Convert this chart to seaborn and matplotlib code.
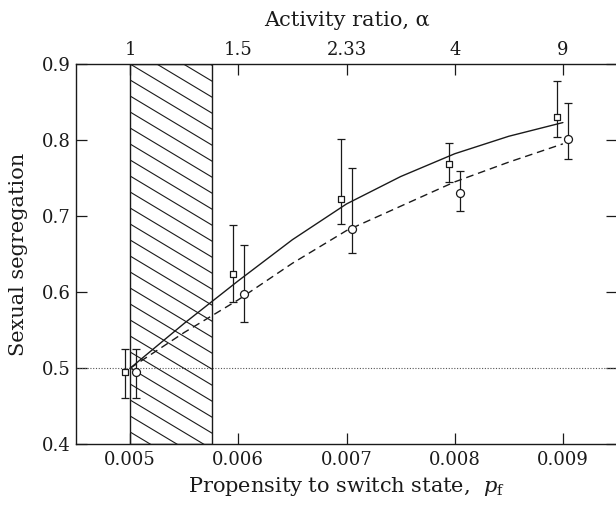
import numpy as np
import pandas as pd
import matplotlib
matplotlib.use("Agg")
import matplotlib.pyplot as plt
from matplotlib.patches import Rectangle
import seaborn as sns

# Valores
p_ticks = [0.005, 0.006, 0.007, 0.008, 0.009]
alpha_labels = ["1", "1.5", "2.33", "4", "9"]
y_ticks = [0.4, 0.5, 0.6, 0.7, 0.8, 0.9]

# quadrados (linha cheia)
sq_mean = [0.495, 0.624, 0.7225, 0.7685, 0.830]
sq_low = [0.4605, 0.5875, 0.690, 0.7445, 0.8036]
sq_high = [0.525, 0.688, 0.801, 0.7966, 0.877]

# círculos (linha tracejada)
ci_mean = [0.495, 0.597, 0.683, 0.731, 0.801]
ci_low = [0.4605, 0.5604, 0.651, 0.7067, 0.7755]
ci_high = [0.5257, 0.662, 0.763, 0.7593, 0.8483]

# curvas ajustadas
curve_x = [0.005, 0.0055, 0.006, 0.0065, 0.007, 0.0075, 0.008, 0.0085, 0.009]
solid_y = [0.500, 0.559, 0.615, 0.669, 0.716, 0.752, 0.782, 0.805, 0.823]
dashed_y = [0.500, 0.547, 0.590, 0.638, 0.681, 0.713, 0.745, 0.771, 0.795]

shade_x = [0.005, 0.00576]
baseline = 0.5
offset = 0.00005
xlim = (0.0045, 0.0095)
ylim = (0.4, 0.9)

# Estilo
sns.set_theme(style="ticks")
plt.rcParams['font.family'] = ['DejaVu Serif']
plt.rcParams['mathtext.fontset'] = 'dejavuserif'
ink = '#1a1a1a'

W, H = 616, 511
fig = plt.figure(figsize=(W / 100, H / 100), dpi=100)
ax_box = [76 / W, (H - 444.3) / H, (617 - 76) / W, 380.3 / H]
ax = fig.add_axes(ax_box)
ax.set_xlim(*xlim)
ax.set_ylim(*ylim)

# Faixa hachurada (linhas inclinadas, recortadas pelo retângulo)
rect = Rectangle((shade_x[0], ylim[0]), shade_x[1] - shade_x[0], ylim[1] - ylim[0],
                 facecolor='none', edgecolor=ink, linewidth=1.0, zorder=3)
ax.add_patch(rect)
px_x = ax_box[2] * W / (xlim[1] - xlim[0])   # pixels por unidade de x
px_y = ax_box[3] * H / (ylim[1] - ylim[0])   # pixels por unidade de y
slope = 0.6 * px_x / px_y
gap = 16 / px_y
for k in range(-10, 40):
    y0 = ylim[1] - k * gap
    xs = np.array(shade_x)
    ys = y0 - slope * (xs - shade_x[0])
    ln, = ax.plot(xs, ys, color=ink, lw=0.8, zorder=2)
    ln.set_clip_path(rect)

# Linha pontilhada em 0.5
ax.axhline(baseline, color='#555555', lw=0.8, ls=(0, (1, 1.5)), zorder=1)

# Curvas
curves = pd.concat([
    pd.DataFrame({'p': curve_x, 'seg': solid_y, 'modelo': 'cheia'}),
    pd.DataFrame({'p': curve_x, 'seg': dashed_y, 'modelo': 'tracejada'}),
])
sns.lineplot(data=curves, x='p', y='seg', style='modelo',
             dashes={'cheia': '', 'tracejada': (5.5, 3.5)},
             color=ink, lw=1.0, legend=False, ax=ax, zorder=4)

# Pontos com barras de erro
px = np.array(p_ticks)
pts = pd.concat([
    pd.DataFrame({'p': px - offset, 'seg': sq_mean, 'lo': sq_low, 'hi': sq_high, 'tipo': 's'}),
    pd.DataFrame({'p': px + offset, 'seg': ci_mean, 'lo': ci_low, 'hi': ci_high, 'tipo': 'o'}),
])
for tipo, size in [('s', 22), ('o', 33)]:
    d = pts[pts['tipo'] == tipo]
    ax.errorbar(d['p'], d['seg'], yerr=[d['seg'] - d['lo'], d['hi'] - d['seg']],
                fmt='none', ecolor=ink, elinewidth=0.9, capsize=3, capthick=0.9, zorder=5)
    sns.scatterplot(data=d, x='p', y='seg', marker=tipo, s=size,
                    facecolor='white', edgecolor=ink, linewidth=0.9, ax=ax, zorder=6)

# Eixos
for sp in ax.spines.values():
    sp.set_color(ink)
    sp.set_linewidth(1.0)
ax.set_xticks(p_ticks)
ax.set_xticklabels([f"{v:.3f}" for v in p_ticks])
ax.set_yticks(y_ticks)
ax.set_yticklabels([f"{v:.1f}" for v in y_ticks])
ax.tick_params(direction='in', length=8, width=0.9, color=ink, labelsize=13,
               labelcolor=ink, right=True, top=False, pad=5)
ax.tick_params(axis='y', pad=4)

top = ax.secondary_xaxis('top')
top.set_xticks(p_ticks)
top.set_xticklabels(alpha_labels)
top.tick_params(direction='in', length=8, width=0.9, color=ink, labelsize=13,
                labelcolor=ink, pad=3.5)
top.spines['top'].set_visible(False)
top.set_xlabel("Activity ratio, α", fontsize=15, color=ink, labelpad=11)

ax.set_xlabel(r"Propensity to switch state,  $p_{\mathrm{f}}$", fontsize=15, color=ink, labelpad=4)
ax.set_ylabel("Sexual segregation", fontsize=15, color=ink, labelpad=10)

fig.savefig("out.png", dpi=100)
